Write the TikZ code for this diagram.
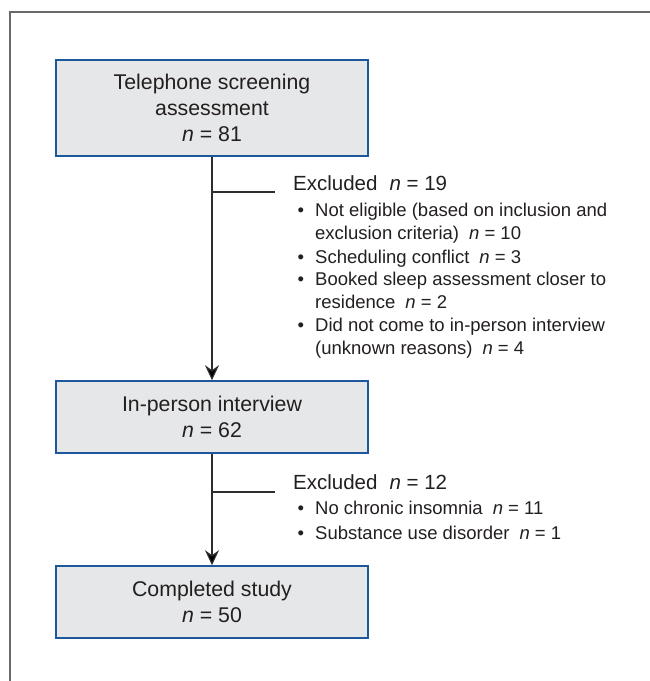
\documentclass[tikz,border=0pt]{standalone}
\usepackage{fontspec}
\setmainfont{Liberation Sans}
\definecolor{fcblue}{RGB}{28,88,155}
\definecolor{fcgray}{RGB}{230,231,232}
\definecolor{fctext}{RGB}{35,31,32}
\definecolor{fcline}{RGB}{45,45,45}
\definecolor{fcframe}{RGB}{105,105,105}
\usetikzlibrary{arrows.meta,positioning}
\tikzset{
  stagebox/.style={draw=fcblue, fill=fcgray, line width=1.6pt, text=fctext,
                   font=\fontsize{21.3}{26}\selectfont, minimum width=312pt,
                   minimum height=#1, inner sep=0pt, align=center},
  exhead/.style={anchor=base west, inner sep=0pt, text=fctext,
                 font=\fontsize{20.5}{26}\selectfont},
  exitem/.style={anchor=base west, inner sep=0pt, text=fctext, align=left,
                 font=\fontsize{18.5}{23}\selectfont},
  flow/.style={draw=fcline, line width=1.2pt,
               -{Stealth[length=15pt, width=14pt, inset=5pt, fill=black]}},
  branch/.style={draw=fcline, line width=1.2pt},
}
\newcommand{\ncount}[1]{\textit{n} = #1}
\newcommand{\itemdot}{\llap{\textbullet\hspace{11pt}}}

\begin{document}
\begin{tikzpicture}[x=1pt, y=-1pt]
\useasboundingbox (0,0) rectangle (650,681);

% --- Frame ---
\draw[fcframe, line width=1.6pt] (10,681) -- (10,12) -- (650,12);

% --- Stages ---
\node[stagebox=96pt] (screen) at (212,108)
      {Telephone screening\\assessment\\\ncount{81}};
\node[stagebox=72pt] (interview) at (212,417)
      {In-person interview\\\ncount{62}};
\node[stagebox=72pt] (completed) at (212,602)
      {Completed study\\\ncount{50}};

\draw[flow] (screen.south) -- (interview.north);
\draw[flow] (interview.south) -- (completed.north);

% --- Exclusions after screening (base = last line) ---
\coordinate (cut1) at (275,192);
\draw[branch] (screen.south |- cut1) -- (cut1);
\node[exhead] (exhead1) at (293,190.5) {Excluded\hspace{12pt}\ncount{19}};
\node[exitem] (ex1a) at (315,239.5)
      {\itemdot Not eligible (based on inclusion and\\exclusion criteria)\hspace{10pt}\ncount{10}};
\node[exitem] (ex1b) at (315,263)
      {\itemdot Scheduling conflict\hspace{10pt}\ncount{3}};
\node[exitem] (ex1c) at (315,308.5)
      {\itemdot Booked sleep assessment closer to\\residence\hspace{10pt}\ncount{2}};
\node[exitem] (ex1d) at (315,354.5)
      {\itemdot Did not come to in-person interview\\(unknown reasons)\hspace{10pt}\ncount{4}};

% --- Exclusions after interview ---
\coordinate (cut2) at (275,492);
\draw[branch] (interview.south |- cut2) -- (cut2);
\node[exhead] (exhead2) at (293,489.5) {Excluded\hspace{12pt}\ncount{12}};
\node[exitem] (ex2a) at (315,514.5)
      {\itemdot No chronic insomnia\hspace{10pt}\ncount{11}};
\node[exitem] (ex2b) at (315,539.5)
      {\itemdot Substance use disorder\hspace{10pt}\ncount{1}};

\end{tikzpicture}
\end{document}
